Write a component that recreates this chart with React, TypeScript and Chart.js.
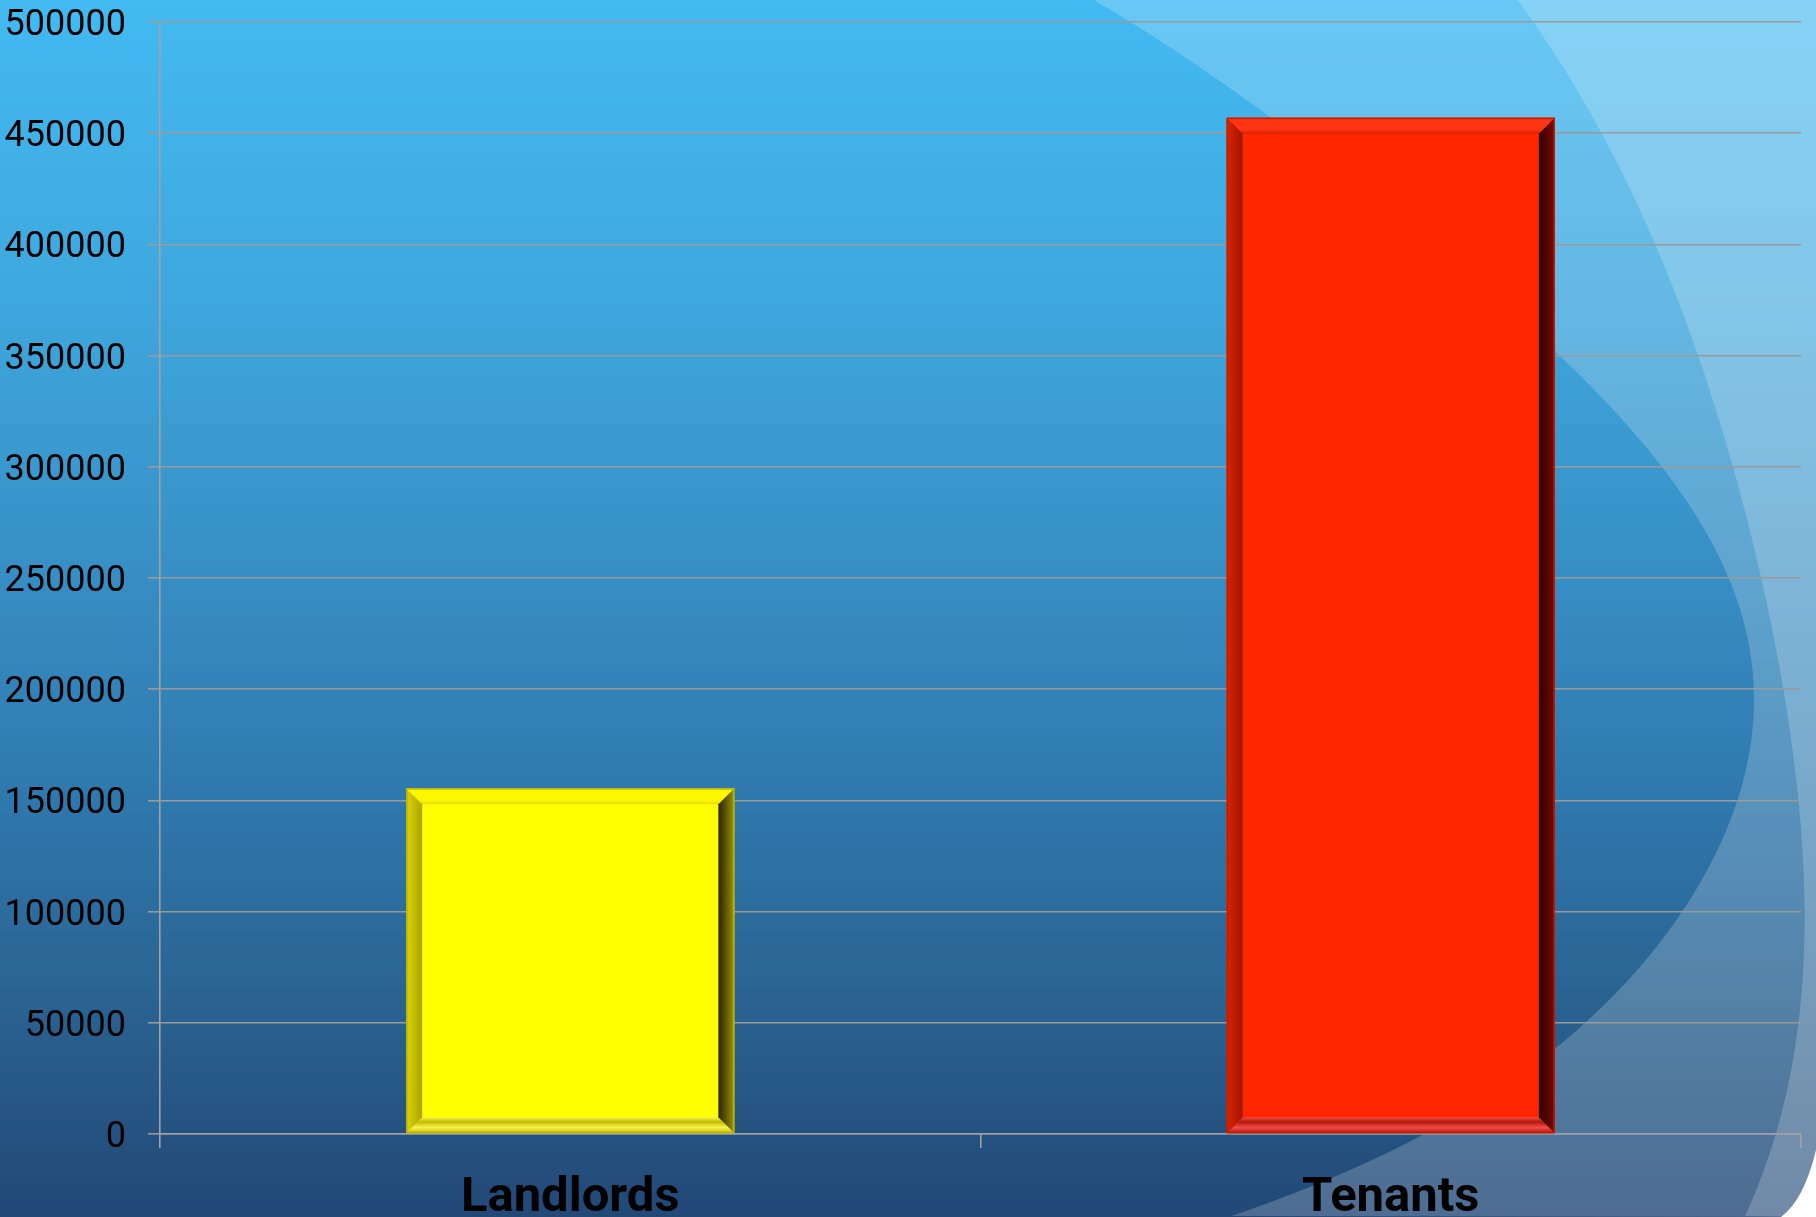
import React, { useEffect, useRef } from 'react';
import { Chart, registerables } from 'chart.js';

Chart.register(...registerables);

// ---- data ----
const categories = ['Landlords', 'Tenants'];
const counts = [155500, 457000];
const barColors = ['#ffff00', '#ff2600'];
const yMin = 0;
const yMax = 500000;
const yStep = 50000;

// ---- style ----
const W = 1816;
const H = 1217;

const bevelPalettes = [
  {
    top: ['#fbf800', '#e4dc00'],
    left: ['#dcd400', '#aca400'],
    right: ['#9a9200', '#2a2400'],
    bottom: ['#c4bc00', '#f8f450'],
    edge: '#b8b000',
  },
  {
    top: ['#ff3412', '#d62200'],
    left: ['#dc2200', '#a01600'],
    right: ['#7a0800', '#2c0000'],
    bottom: ['#b01a0c', '#f24a48'],
    edge: '#c01e00',
  },
];

// background swoosh outlines (decoration only): traced points, smoothed by a polynomial fit x(y)
const swoosh1: [number, number][] = [
  [1094, 0], [1225, 85], [1390, 210], [1556, 347], [1620, 420], [1679, 500],
  [1726, 567], [1749, 633], [1756, 680], [1753, 733], [1736, 800], [1699, 883],
  [1649, 950], [1610, 1000], [1556, 1050], [1490, 1098], [1433, 1132],
  [1333, 1172], [1233, 1217],
];
const swoosh2: [number, number][] = [
  [1516, 0], [1569, 77], [1606, 133], [1649, 233], [1683, 317], [1716, 417],
  [1743, 500], [1762, 580], [1783, 700], [1799, 783], [1806, 867], [1803, 967],
  [1792, 1050], [1776, 1130], [1746, 1217],
];

function polyfit(pts: [number, number][], deg: number): number[] {
  const n = deg + 1;
  const A: number[][] = Array.from({ length: n }, () => new Array(n).fill(0));
  const b: number[] = new Array(n).fill(0);
  for (const [x, y] of pts) {
    const t = y / H;
    for (let i = 0; i < n; i++) {
      for (let j = 0; j < n; j++) A[i][j] += Math.pow(t, i + j);
      b[i] += x * Math.pow(t, i);
    }
  }
  for (let c = 0; c < n; c++) {
    let piv = c;
    for (let r = c + 1; r < n; r++) if (Math.abs(A[r][c]) > Math.abs(A[piv][c])) piv = r;
    [A[c], A[piv]] = [A[piv], A[c]];
    [b[c], b[piv]] = [b[piv], b[c]];
    for (let r = c + 1; r < n; r++) {
      const f = A[r][c] / A[c][c];
      for (let k = c; k < n; k++) A[r][k] -= f * A[c][k];
      b[r] -= f * b[c];
    }
  }
  const coef = new Array(n).fill(0);
  for (let r = n - 1; r >= 0; r--) {
    let s = b[r];
    for (let k = r + 1; k < n; k++) s -= A[r][k] * coef[k];
    coef[r] = s / A[r][r];
  }
  return coef;
}

function fittedCurve(ctx: CanvasRenderingContext2D, pts: [number, number][], deg: number) {
  const coef = polyfit(pts, deg);
  const evalX = (y: number) => {
    const t = y / H;
    let v = 0;
    for (let i = coef.length - 1; i >= 0; i--) v = v * t + coef[i];
    return v;
  };
  ctx.moveTo(evalX(0), 0);
  for (let y = 2; y <= H; y += 2) ctx.lineTo(evalX(y), y);
}

const backgroundPlugin = {
  id: 'slideBackground',
  beforeDraw(chart: any) {
    const { ctx, width, height } = chart;
    ctx.save();
    const g = ctx.createLinearGradient(0, 0, 0, height);
    g.addColorStop(0, '#43baf2');
    g.addColorStop(0.25, '#3ea7dd');
    g.addColorStop(0.5, '#368bc1');
    g.addColorStop(0.65, '#2f79ae');
    g.addColorStop(0.82, '#2a6392');
    g.addColorStop(1, '#224876');
    ctx.fillStyle = g;
    ctx.fillRect(0, 0, width, height);

    ctx.beginPath();
    fittedCurve(ctx, swoosh1, 6);
    ctx.lineTo(width, height);
    ctx.lineTo(width, 0);
    ctx.closePath();
    ctx.fillStyle = 'rgba(255,255,255,0.2)';
    ctx.fill();

    ctx.beginPath();
    fittedCurve(ctx, swoosh2, 4);
    ctx.lineTo(width, height);
    ctx.lineTo(width, 0);
    ctx.closePath();
    ctx.fillStyle = 'rgba(255,255,255,0.2)';
    ctx.fill();

    // white rounded corner bottom-right
    ctx.beginPath();
    ctx.moveTo(width, 1150);
    ctx.quadraticCurveTo(width - 12, 1200, 1781, height);
    ctx.lineTo(width, height);
    ctx.closePath();
    ctx.fillStyle = '#ffffff';
    ctx.fill();
    ctx.restore();
  },
};

const bevelPlugin = {
  id: 'barBevel',
  afterDatasetsDraw(chart: any) {
    const ctx: CanvasRenderingContext2D = chart.ctx;
    const meta = chart.getDatasetMeta(0);
    meta.data.forEach((el: any, i: number) => {
      const { x, y, base, width } = el.getProps(['x', 'y', 'base', 'width'], true);
      const L = x - width / 2;
      const R = x + width / 2;
      const T = Math.min(y, base);
      const B = Math.max(y, base);
      const b = Math.min(16, width / 4, (B - T) / 4);
      const p = bevelPalettes[i % bevelPalettes.length];
      const poly = (pts: number[][], fill: any) => {
        ctx.beginPath();
        ctx.moveTo(pts[0][0], pts[0][1]);
        for (let k = 1; k < pts.length; k++) ctx.lineTo(pts[k][0], pts[k][1]);
        ctx.closePath();
        ctx.fillStyle = fill;
        ctx.fill();
      };
      ctx.save();
      let g = ctx.createLinearGradient(0, T, 0, T + b);
      g.addColorStop(0, p.top[0]);
      g.addColorStop(0.75, p.top[0]);
      g.addColorStop(1, p.top[1]);
      poly([[L, T], [R, T], [R - b, T + b], [L + b, T + b]], g);

      g = ctx.createLinearGradient(0, B, 0, B - b);
      g.addColorStop(0, p.bottom[0]);
      g.addColorStop(0.35, p.bottom[1]);
      g.addColorStop(0.7, p.bottom[0]);
      g.addColorStop(1, p.bottom[1]);
      poly([[L, B], [R, B], [R - b, B - b], [L + b, B - b]], g);

      g = ctx.createLinearGradient(L, 0, L + b, 0);
      g.addColorStop(0, p.left[0]);
      g.addColorStop(1, p.left[1]);
      poly([[L, T], [L + b, T + b], [L + b, B - b], [L, B]], g);

      g = ctx.createLinearGradient(R, 0, R - b, 0);
      g.addColorStop(0, p.right[0]);
      g.addColorStop(1, p.right[1]);
      poly([[R, T], [R, B], [R - b, B - b], [R - b, T + b]], g);

      ctx.strokeStyle = p.edge;
      ctx.lineWidth = 1.5;
      ctx.strokeRect(L + 0.75, T + 0.75, width - 1.5, B - T - 1.5);
      ctx.restore();
    });
  },
};

export default function App() {
  const canvasRef = useRef<HTMLCanvasElement | null>(null);

  useEffect(() => {
    document.body.style.margin = '0';
    const canvas = canvasRef.current;
    if (!canvas) return;
    const chart = new Chart(canvas, {
      type: 'bar',
      data: {
        labels: categories,
        datasets: [
          {
            data: counts,
            backgroundColor: barColors,
            borderWidth: 0,
            categoryPercentage: 0.4,
            barPercentage: 1,
          },
        ],
      },
      options: {
        animation: false,
        responsive: false,
        devicePixelRatio: 1,
        layout: { padding: { top: 22, right: 15, left: 0, bottom: 0 } },
        plugins: {
          legend: { display: false },
          tooltip: { enabled: false },
          title: { display: false },
        },
        scales: {
          x: {
            grid: {
              drawOnChartArea: false,
              drawTicks: true,
              tickLength: 14,
              color: '#a2a2a2',
              lineWidth: 1.6,
              offset: true,
            },
            border: { display: true, color: '#a2a2a2', width: 1.6 },
            ticks: {
              color: '#000000',
              font: { family: 'Roboto', weight: 'bold', size: 49, lineHeight: 1 },
              padding: 26,
              maxRotation: 0,
            },
            afterFit: (s: any) => {
              s.height = 83;
            },
          },
          y: {
            min: yMin,
            max: yMax,
            grid: {
              color: '#9a9a9a',
              lineWidth: 1.6,
              tickLength: 12,
              drawTicks: true,
            },
            border: { display: true, color: '#a2a2a2', width: 1.6 },
            ticks: {
              stepSize: yStep,
              color: '#000000',
              font: { family: 'Roboto', size: 36, lineHeight: 1 },
              padding: 22,
              labelOffset: 4,
              callback: (v: any) => String(v),
            },
            afterFit: (s: any) => {
              s.width = 160;
              s.paddingTop = 0;
              s.paddingBottom = 0;
            },
          },
        },
      },
      plugins: [backgroundPlugin, bevelPlugin],
    });
    return () => chart.destroy();
  }, []);

  return (
    <div style={{ width: W, height: H, overflow: 'hidden' }}>
      <canvas ref={canvasRef} width={W} height={H} style={{ display: 'block', width: W, height: H }} />
    </div>
  );
}
